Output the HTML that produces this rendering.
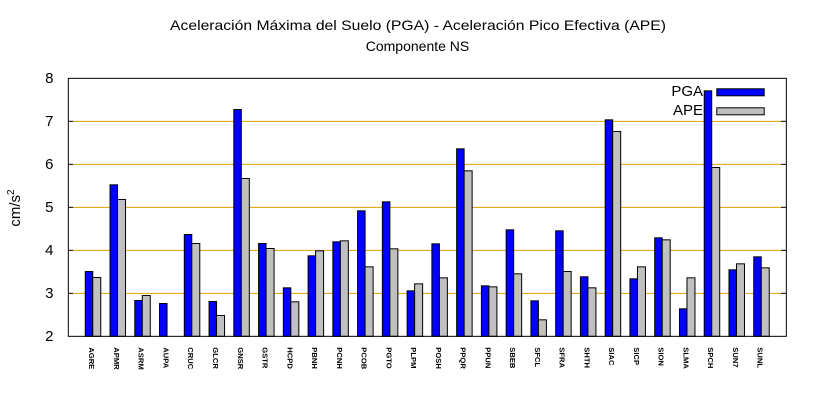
<!DOCTYPE html>
<html><head><meta charset="utf-8"><style>
html,body{margin:0;padding:0;background:#fff;}
svg{display:block;}
text{font-family:"Liberation Sans",Arial,sans-serif;fill:#000;}
</style></head><body>
<svg width="820" height="400" viewBox="0 0 820 400" xmlns="http://www.w3.org/2000/svg">
<rect width="820" height="400" fill="#fff"/>
<!-- title -->
<text x="418" y="30" font-size="14" text-anchor="middle" textLength="496" lengthAdjust="spacingAndGlyphs">Aceleración Máxima del Suelo (PGA) -  Aceleración Pico Efectiva (APE)</text>
<text x="417.5" y="51" font-size="14" text-anchor="middle">Componente NS</text>
<!-- grid -->
<g stroke="#e0a000" stroke-width="1">
<line x1="73" y1="293.33" x2="781" y2="293.33"/>
<line x1="73" y1="250.33" x2="781" y2="250.33"/>
<line x1="73" y1="207.33" x2="781" y2="207.33"/>
<line x1="73" y1="164.33" x2="781" y2="164.33"/>
<line x1="73" y1="121.33" x2="781" y2="121.33"/>
</g>
<g stroke="#000" stroke-width="1">
<line x1="68" y1="293.33" x2="73" y2="293.33"/><line x1="781" y1="293.33" x2="786" y2="293.33"/>
<line x1="68" y1="250.33" x2="73" y2="250.33"/><line x1="781" y1="250.33" x2="786" y2="250.33"/>
<line x1="68" y1="207.33" x2="73" y2="207.33"/><line x1="781" y1="207.33" x2="786" y2="207.33"/>
<line x1="68" y1="164.33" x2="73" y2="164.33"/><line x1="781" y1="164.33" x2="786" y2="164.33"/>
<line x1="68" y1="121.33" x2="73" y2="121.33"/><line x1="781" y1="121.33" x2="786" y2="121.33"/>
</g>
<!-- bars -->
<g stroke="#000" stroke-width="1">
<rect x="85.26" y="271.5" width="7.5" height="64.83" fill="#0000ff"/><rect x="92.76" y="277.5" width="8" height="58.83" fill="#c0c0c0"/>
<rect x="110.02" y="184.83" width="7.5" height="151.5" fill="#0000ff"/><rect x="117.52" y="199.5" width="8" height="136.83" fill="#c0c0c0"/>
<rect x="134.78" y="300.5" width="7.5" height="35.83" fill="#0000ff"/><rect x="142.28" y="295.5" width="8" height="40.83" fill="#c0c0c0"/>
<rect x="159.53" y="303.5" width="7.5" height="32.83" fill="#0000ff"/>
<rect x="184.29" y="234.5" width="7.5" height="101.83" fill="#0000ff"/><rect x="191.79" y="243.5" width="8" height="92.83" fill="#c0c0c0"/>
<rect x="209.05" y="301.5" width="7.5" height="34.83" fill="#0000ff"/><rect x="216.55" y="315.5" width="8" height="20.83" fill="#c0c0c0"/>
<rect x="233.81" y="109.5" width="7.5" height="226.83" fill="#0000ff"/><rect x="241.31" y="178.5" width="8" height="157.83" fill="#c0c0c0"/>
<rect x="258.57" y="243.5" width="7.5" height="92.83" fill="#0000ff"/><rect x="266.07" y="248.5" width="8" height="87.83" fill="#c0c0c0"/>
<rect x="283.33" y="287.83" width="7.5" height="48.5" fill="#0000ff"/><rect x="290.83" y="301.83" width="8" height="34.5" fill="#c0c0c0"/>
<rect x="308.09" y="255.83" width="7.5" height="80.5" fill="#0000ff"/><rect x="315.59" y="250.83" width="8" height="85.5" fill="#c0c0c0"/>
<rect x="332.84" y="241.83" width="7.5" height="94.5" fill="#0000ff"/><rect x="340.34" y="240.83" width="8" height="95.5" fill="#c0c0c0"/>
<rect x="357.6" y="210.83" width="7.5" height="125.5" fill="#0000ff"/><rect x="365.1" y="266.83" width="8" height="69.5" fill="#c0c0c0"/>
<rect x="382.36" y="201.83" width="7.5" height="134.5" fill="#0000ff"/><rect x="389.86" y="248.83" width="8" height="87.5" fill="#c0c0c0"/>
<rect x="407.12" y="290.83" width="7.5" height="45.5" fill="#0000ff"/><rect x="414.62" y="283.83" width="8" height="52.5" fill="#c0c0c0"/>
<rect x="431.88" y="243.83" width="7.5" height="92.5" fill="#0000ff"/><rect x="439.38" y="277.83" width="8" height="58.5" fill="#c0c0c0"/>
<rect x="456.64" y="148.83" width="7.5" height="187.5" fill="#0000ff"/><rect x="464.14" y="170.83" width="8" height="165.5" fill="#c0c0c0"/>
<rect x="481.4" y="285.83" width="7.5" height="50.5" fill="#0000ff"/><rect x="488.9" y="286.83" width="8" height="49.5" fill="#c0c0c0"/>
<rect x="506.16" y="229.83" width="7.5" height="106.5" fill="#0000ff"/><rect x="513.66" y="273.83" width="8" height="62.5" fill="#c0c0c0"/>
<rect x="530.91" y="300.83" width="7.5" height="35.5" fill="#0000ff"/><rect x="538.41" y="319.83" width="8" height="16.5" fill="#c0c0c0"/>
<rect x="555.67" y="230.83" width="7.5" height="105.5" fill="#0000ff"/><rect x="563.17" y="271.5" width="8" height="64.83" fill="#c0c0c0"/>
<rect x="580.43" y="276.83" width="7.5" height="59.5" fill="#0000ff"/><rect x="587.93" y="287.83" width="8" height="48.5" fill="#c0c0c0"/>
<rect x="605.19" y="119.83" width="7.5" height="216.5" fill="#0000ff"/><rect x="612.69" y="131.5" width="8" height="204.83" fill="#c0c0c0"/>
<rect x="629.95" y="278.83" width="7.5" height="57.5" fill="#0000ff"/><rect x="637.45" y="266.83" width="8" height="69.5" fill="#c0c0c0"/>
<rect x="654.71" y="237.83" width="7.5" height="98.5" fill="#0000ff"/><rect x="662.21" y="239.83" width="8" height="96.5" fill="#c0c0c0"/>
<rect x="679.47" y="308.83" width="7.5" height="27.5" fill="#0000ff"/><rect x="686.97" y="277.83" width="8" height="58.5" fill="#c0c0c0"/>
<rect x="704.22" y="90.83" width="7.5" height="245.5" fill="#0000ff"/><rect x="711.72" y="167.5" width="8" height="168.83" fill="#c0c0c0"/>
<rect x="728.98" y="269.83" width="7.5" height="66.5" fill="#0000ff"/><rect x="736.48" y="263.83" width="8" height="72.5" fill="#c0c0c0"/>
<rect x="753.74" y="256.83" width="7.5" height="79.5" fill="#0000ff"/><rect x="761.24" y="267.83" width="8" height="68.5" fill="#c0c0c0"/>
</g>
<!-- frame -->
<rect x="68.33" y="78.33" width="718" height="258" fill="none" stroke="#000" stroke-width="1"/>
<!-- y tick labels -->
<g font-size="15" text-anchor="end">
<text x="53.5" y="341">2</text>
<text x="53.5" y="298">3</text>
<text x="53.5" y="255">4</text>
<text x="53.5" y="212">5</text>
<text x="53.5" y="169">6</text>
<text x="53.5" y="126">7</text>
<text x="53.5" y="83">8</text>
</g>
<!-- y label -->
<text transform="translate(20,208) rotate(-90)" font-size="15" text-anchor="middle">cm/s<tspan font-size="10" dy="-6">2</tspan></text>
<!-- legend -->
<text x="703" y="96" font-size="15" text-anchor="end">PGA</text>
<text x="703" y="115" font-size="15" text-anchor="end">APE</text>
<rect x="716.8" y="88.8" width="47.4" height="7" fill="#0000ff" stroke="#000" stroke-width="1"/>
<rect x="716.8" y="107.8" width="47.4" height="7" fill="#c0c0c0" stroke="#000" stroke-width="1"/>
<!-- x labels -->
<g font-size="7.6" font-weight="bold">
<text transform="translate(89.2,347.3) rotate(90)">AGRE</text>
<text transform="translate(113.96,347.3) rotate(90)">APMR</text>
<text transform="translate(138.72,347.3) rotate(90)">ASRM</text>
<text transform="translate(163.47,347.3) rotate(90)">AUPA</text>
<text transform="translate(188.23,347.3) rotate(90)">CRUC</text>
<text transform="translate(212.99,347.3) rotate(90)">GLCR</text>
<text transform="translate(237.75,347.3) rotate(90)">GNSR</text>
<text transform="translate(262.51,347.3) rotate(90)">GSTR</text>
<text transform="translate(287.27,347.3) rotate(90)">HCPD</text>
<text transform="translate(312.03,347.3) rotate(90)">PBNH</text>
<text transform="translate(336.78,347.3) rotate(90)">PCNH</text>
<text transform="translate(361.54,347.3) rotate(90)">PCOB</text>
<text transform="translate(386.3,347.3) rotate(90)">PGTO</text>
<text transform="translate(411.06,347.3) rotate(90)">PLPM</text>
<text transform="translate(435.82,347.3) rotate(90)">POSH</text>
<text transform="translate(460.58,347.3) rotate(90)">PPQR</text>
<text transform="translate(485.34,347.3) rotate(90)">PPUN</text>
<text transform="translate(510.1,347.3) rotate(90)">SBEB</text>
<text transform="translate(534.85,347.3) rotate(90)">SFCL</text>
<text transform="translate(559.61,347.3) rotate(90)">SFRA</text>
<text transform="translate(584.37,347.3) rotate(90)">SHTH</text>
<text transform="translate(609.13,347.3) rotate(90)">SIAC</text>
<text transform="translate(633.89,347.3) rotate(90)">SICP</text>
<text transform="translate(658.65,347.3) rotate(90)">SION</text>
<text transform="translate(683.41,347.3) rotate(90)">SLMA</text>
<text transform="translate(708.16,347.3) rotate(90)">SPCH</text>
<text transform="translate(732.92,347.3) rotate(90)">SUN7</text>
<text transform="translate(757.68,347.3) rotate(90)">SUNL</text>
</g>
</svg>
</body></html>
